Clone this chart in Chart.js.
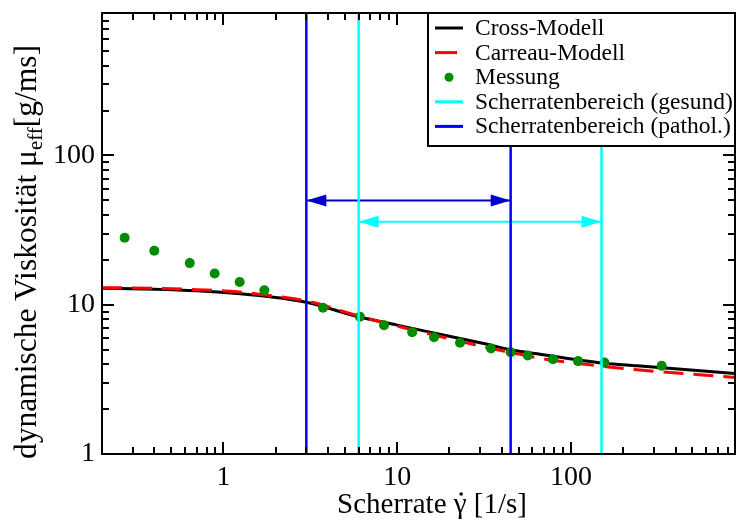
<!DOCTYPE html>
<html>
<head>
<meta charset="utf-8">
<script src="https://cdn.jsdelivr.net/npm/chart.js@4"></script>
<style>
  body { margin: 0; background: #fff; }
</style>
</head>
<body>
<canvas id="grafico" width="740" height="520"></canvas>
<script>
// Modellkurven
const modellX  = [0.2, 0.4, 0.7, 1.2, 1.75, 3, 6, 10, 17, 32, 45, 64, 155, 240, 900];
const crossY   = [12.9, 12.7, 12.4, 11.9, 11.4, 10.4, 8.3, 7.3, 6.4, 5.47, 5.0, 4.69, 4.06, 3.9, 3.45];
const carreauY = [13.0, 12.9, 12.6, 12.2, 11.6, 10.6, 8.4, 7.2, 6.2, 5.2, 4.8, 4.41, 3.86, 3.67, 3.25];

// Messpunkte
const messungX = [0.27, 0.40, 0.64, 0.89, 1.24, 1.72, 3.74, 6.1, 8.4, 12.2, 16.3, 23, 34.7, 45, 56.4, 78.8, 110, 156, 333];
const messungY = [28.1, 23.0, 19.0, 16.2, 14.2, 12.5, 9.55, 8.3, 7.3, 6.54, 6.05, 5.56, 5.09, 4.8, 4.57, 4.32, 4.19, 4.1, 3.9];

// Scherratenbereiche
const bereichGesund = [6, 150];
const bereichPathol = [3, 45];
const pfeilGesundY = 36;
const pfeilPatholY = 50;

const xTicks = [1, 10, 100];
const yTicks = [1, 10, 100];
const xMin = 0.2, xMax = 880;
const yMin = 1, yMax = 900;

const serif = "'Liberation Serif', 'Times New Roman', serif";
const gruen = '#008b00';
const blau = '#0000ff';
const blauPfeil = '#0000cc';
const cyan = '#00ffff';

function punkte(xs, ys) {
  return xs.map((x, i) => ({ x: x, y: ys[i] }));
}

function senkrecht(x, farbe) {
  return {
    data: [{ x: x, y: yMin }, { x: x, y: yMax }],
    borderColor: farbe, borderWidth: 2.5, pointRadius: 0, order: 0
  };
}

function pfeil(bereich, y, farbe) {
  return {
    data: [{ x: bereich[0], y: y }, { x: bereich[1], y: y }],
    borderColor: farbe, borderWidth: 2, pointRadius: 0, order: 0,
    pfeil: true
  };
}

// Rahmen, Ticks, Achsentitel, Legende, Pfeilspitzen
const deko = {
  id: 'deko',
  afterDatasetsDraw(chart) {
    const ctx = chart.ctx;
    const a = chart.chartArea;
    const sx = chart.scales.x, sy = chart.scales.y;

    // pfeilspitzen
    chart.data.datasets.forEach(ds => {
      if (!ds.pfeil) return;
      const y = sy.getPixelForValue(ds.data[0].y);
      const x1 = sx.getPixelForValue(ds.data[0].x);
      const x2 = sx.getPixelForValue(ds.data[1].x);
      ctx.fillStyle = ds.borderColor;
      ctx.beginPath();
      ctx.moveTo(x1, y); ctx.lineTo(x1 + 20, y - 6); ctx.lineTo(x1 + 20, y + 6);
      ctx.closePath(); ctx.fill();
      ctx.beginPath();
      ctx.moveTo(x2, y); ctx.lineTo(x2 - 20, y - 6); ctx.lineTo(x2 - 20, y + 6);
      ctx.closePath(); ctx.fill();
    });

    ctx.save();
    ctx.strokeStyle = '#000';
    ctx.lineWidth = 2;
    ctx.strokeRect(a.left, a.top, a.right - a.left, a.bottom - a.top);

    // log ticks
    function logWerte(min, max) {
      const werte = [];
      for (let k = Math.floor(Math.log10(min)); k <= Math.ceil(Math.log10(max)); k++) {
        for (let m = 1; m <= 9; m++) {
          const v = m * Math.pow(10, k);
          if (v >= min * 0.999 && v <= max * 1.001) werte.push({ v: v, major: m === 1 });
        }
      }
      return werte;
    }
    ctx.lineWidth = 2;
    ctx.beginPath();
    logWerte(sx.min, sx.max).forEach(t => {
      const p = Math.round(sx.getPixelForValue(t.v));
      const l = t.major ? 12 : 7;
      ctx.moveTo(p, a.bottom); ctx.lineTo(p, a.bottom - l);
      ctx.moveTo(p, a.top); ctx.lineTo(p, a.top + l);
    });
    logWerte(sy.min, sy.max).forEach(t => {
      const p = Math.round(sy.getPixelForValue(t.v));
      const l = t.major ? 12 : 7;
      ctx.moveTo(a.left, p); ctx.lineTo(a.left + l, p);
      ctx.moveTo(a.right, p); ctx.lineTo(a.right - l, p);
    });
    ctx.stroke();

    // x titel, punkt ueber gamma von hand
    ctx.fillStyle = '#000';
    ctx.font = '29px ' + serif;
    ctx.textAlign = 'left';
    ctx.textBaseline = 'alphabetic';
    const xt1 = 'Scherrate ', xt2 = 'γ', xt3 = ' [1/s]';
    const b1 = ctx.measureText(xt1).width, b2 = ctx.measureText(xt2).width, b3 = ctx.measureText(xt3).width;
    const xs0 = 432 - (b1 + b2 + b3) / 2;
    ctx.fillText(xt1 + xt2 + xt3, xs0, 513);
    ctx.beginPath();
    ctx.arc(xs0 + b1 + b2 / 2 + 1, 513 - 19, 1.8, 0, Math.PI * 2);
    ctx.fill();

    // y titel mit index
    ctx.save();
    ctx.translate(36, 252);
    ctx.rotate(-Math.PI / 2);
    const t1 = 'dynamische Viskosität μ', t2 = 'eff', t3 = '[g/ms]';
    ctx.font = '31.5px ' + serif;
    const w1 = ctx.measureText(t1).width, w3 = ctx.measureText(t3).width;
    ctx.font = '21px ' + serif;
    const w2 = ctx.measureText(t2).width;
    let x0 = -(w1 + w2 + w3) / 2;
    ctx.font = '31.5px ' + serif;
    ctx.fillText(t1, x0, 0);
    ctx.font = '21px ' + serif;
    ctx.fillText(t2, x0 + w1, 6);
    ctx.font = '31.5px ' + serif;
    ctx.fillText(t3, x0 + w1 + w2, 0);
    ctx.restore();

    // legende
    const lx = 428, ly = a.top, lw = a.right - 428, lh = 133;
    ctx.fillStyle = '#fff';
    ctx.fillRect(lx, ly, lw, lh);
    ctx.strokeStyle = '#000';
    ctx.lineWidth = 2;
    ctx.strokeRect(lx, ly, lw, lh);
    const eintraege = [
      { text: 'Cross-Modell', farbe: '#000', art: 'linie' },
      { text: 'Carreau-Modell', farbe: '#ff0000', art: 'strich' },
      { text: 'Messung', farbe: gruen, art: 'punkt' },
      { text: 'Scherratenbereich (gesund)', farbe: cyan, art: 'linie' },
      { text: 'Scherratenbereich (pathol.)', farbe: blau, art: 'linie' }
    ];
    eintraege.forEach((e, i) => {
      const y = 28 + i * 24.6;
      if (e.art === 'punkt') {
        ctx.fillStyle = e.farbe;
        ctx.beginPath(); ctx.arc(449, y, 4.5, 0, Math.PI * 2); ctx.fill();
      } else {
        ctx.strokeStyle = e.farbe;
        ctx.lineWidth = 3;
        ctx.beginPath();
        ctx.moveTo(435, y); ctx.lineTo(e.art === 'strich' ? 457 : 463, y);
        ctx.stroke();
      }
      ctx.fillStyle = '#000';
      ctx.font = '23.5px ' + serif;
      ctx.textAlign = 'left';
      ctx.fillText(e.text, 475, y + 7);
    });
    ctx.restore();
  }
};

new Chart(document.getElementById('grafico'), {
  type: 'line',
  data: {
    datasets: [
      senkrecht(bereichPathol[0], blau),
      senkrecht(bereichPathol[1], blau),
      senkrecht(bereichGesund[0], cyan),
      senkrecht(bereichGesund[1], cyan),
      pfeil(bereichPathol, pfeilPatholY, blauPfeil),
      pfeil(bereichGesund, pfeilGesundY, cyan),
      {
        label: 'Messung',
        data: punkte(messungX, messungY),
        showLine: false, pointRadius: 5, pointBorderWidth: 0,
        pointBackgroundColor: gruen, borderColor: gruen, order: 1
      },
      {
        label: 'Carreau-Modell',
        data: punkte(modellX, carreauY),
        borderColor: '#ff0000', borderWidth: 3, borderDash: [20, 10],
        pointRadius: 0, cubicInterpolationMode: 'monotone', order: 2
      },
      {
        label: 'Cross-Modell',
        data: punkte(modellX, crossY),
        borderColor: '#000', borderWidth: 3,
        pointRadius: 0, cubicInterpolationMode: 'monotone', order: 3
      }
    ]
  },
  options: {
    responsive: false,
    animation: false,
    devicePixelRatio: 1,
    events: [],
    layout: { padding: { top: 13, right: 2, left: 0, bottom: 0 } },
    plugins: { legend: { display: false }, tooltip: { enabled: false } },
    scales: {
      x: {
        type: 'logarithmic', min: xMin, max: xMax,
        grid: { display: false, drawTicks: false },
        border: { display: false },
        afterBuildTicks: s => { s.ticks = xTicks.map(v => ({ value: v })); },
        afterFit: s => { s.height = 66; s.paddingLeft = 0; s.paddingRight = 0; },
        ticks: {
          color: '#000', font: { family: serif, size: 28 }, padding: 7,
          maxRotation: 0, autoSkip: false,
          callback: v => String(v)
        }
      },
      y: {
        type: 'logarithmic', min: yMin, max: yMax,
        grid: { display: false, drawTicks: false },
        border: { display: false },
        afterBuildTicks: s => { s.ticks = yTicks.map(v => ({ value: v })); },
        afterFit: s => { s.width = 102; s.paddingTop = 0; s.paddingBottom = 0; },
        ticks: {
          color: '#000', font: { family: serif, size: 28 }, padding: 7,
          autoSkip: false,
          callback: v => String(v)
        }
      }
    }
  },
  plugins: [deko]
});
</script>
</body>
</html>
